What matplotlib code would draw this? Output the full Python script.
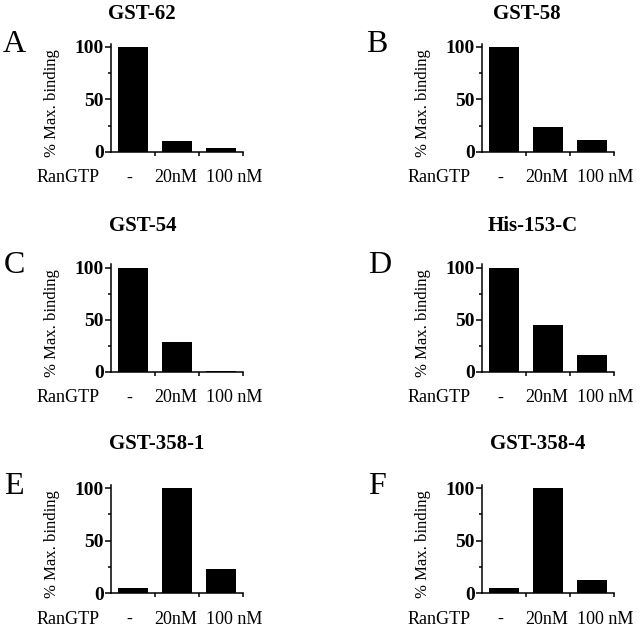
import matplotlib.pyplot as plt
from matplotlib.ticker import MultipleLocator
from matplotlib.transforms import blended_transform_factory

plt.rcParams["font.family"] = ["Liberation Serif", "DejaVu Serif"]

# data
titles = ["GST-62", "GST-58", "GST-54", "His-153-C", "GST-358-1", "GST-358-4"]
letters = ["A", "B", "C", "D", "E", "F"]
conditions = ["-", "20nM", "100 nM"]
vals_a = [100, 10, 4]
vals_b = [100, 24, 11]
vals_c = [100, 29, 1]
vals_d = [100, 45, 16]
vals_e = [5, 100, 23]
vals_f = [5, 100, 12]
values = [vals_a, vals_b, vals_c, vals_d, vals_e, vals_f]

W, H = 640, 626
fig = plt.figure(figsize=(W / 100, H / 100), dpi=100)


def fx(px):
    return px / W


def fy(py):
    return 1 - py / H


col_left = [111, 482]
row_y0 = [152, 372, 593]
row_y100 = [46.7, 267.5, 488.3]
title_x = [142, 527, 143, 533, 157, 538]
title_y = [14, 14, 226, 226, 444, 444]
letter_x = [14, 377, 14, 380, 14, 377]
label_x = [-0.08, 0.97, 2.3]

for i in range(6):
    r, c = divmod(i, 2)
    left = col_left[c]
    y0 = row_y0[r]
    y100 = row_y100[r]
    top = y0 - (y0 - y100) * 1.03
    ax = fig.add_axes([fx(left), fy(y0), fx(132), (y0 - top) / H])
    ax.bar(range(3), values[i], width=0.68, color="black")
    ax.set_xlim(-0.5, 2.5)
    ax.set_ylim(0, 103)
    for s in ["top", "right"]:
        ax.spines[s].set_visible(False)
    for s in ["left", "bottom"]:
        ax.spines[s].set_linewidth(1.1)
    ax.set_yticks([0, 50, 100])
    ax.yaxis.set_minor_locator(MultipleLocator(25))
    ax.set_yticklabels(["0", "50", "100"], fontsize=14, fontweight="bold")
    ax.tick_params(axis="y", which="major", length=4, width=1.1, pad=1)
    ax.tick_params(axis="y", which="minor", length=2.5, width=1.1)
    ax.set_xticks([0.5, 1.5, 2.5])
    ax.set_xticklabels([])
    ax.tick_params(axis="x", length=3, width=1.1)

    row_tr = blended_transform_factory(ax.transData, fig.transFigure)
    for k, lab in enumerate(conditions):
        ax.text(label_x[k], fy(y0 + 26), lab, transform=row_tr,
                ha="center", va="center", fontsize=13)

    fig.text(fx(left - 74), fy(y0 + 26), "RanGTP", ha="left", va="center",
             fontsize=13)
    fig.text(fx(left - 59), fy((y0 + top) / 2 + 5), "% Max. binding",
             rotation=90, ha="center", va="center", fontsize=12)
    fig.text(fx(title_x[i]), fy(title_y[i]), titles[i], ha="center",
             va="center", fontsize=15, fontweight="bold")
    fig.text(fx(letter_x[i]), fy(y100 - 2), letters[i], ha="center",
             va="center", fontsize=23)

fig.savefig("out.png", dpi=100)
